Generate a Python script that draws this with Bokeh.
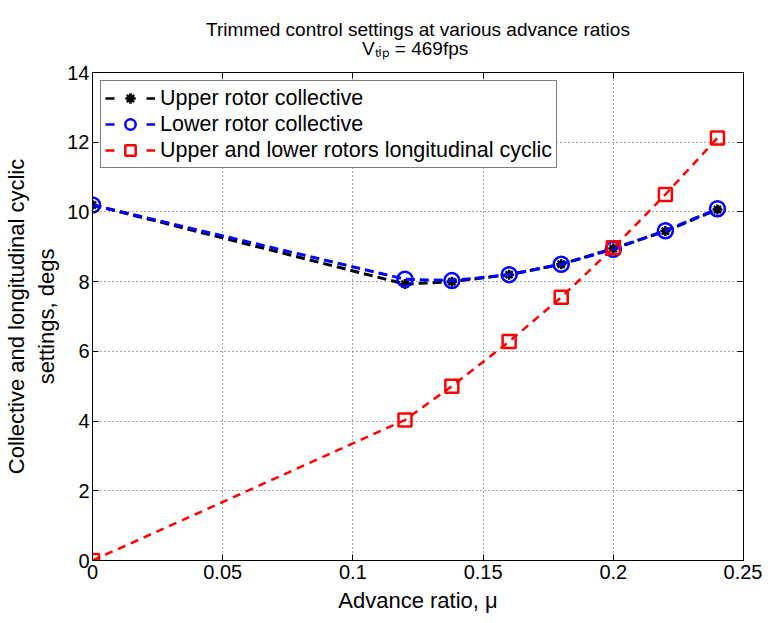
from bokeh.plotting import figure
from bokeh.models import (Range1d, FixedTicker, LinearAxis, Legend, LegendItem,
                          Title, ColumnDataSource)
from bokeh.embed import file_html
from bokeh.resources import INLINE

# ---- data ----
mu = [0.0, 0.12, 0.138, 0.16, 0.18, 0.20, 0.22, 0.24]
upper_collective = [10.2, 7.93, 8.00, 8.20, 8.50, 8.95, 9.45, 10.07]
lower_collective = [10.2, 8.07, 8.03, 8.20, 8.50, 8.93, 9.46, 10.09]
long_cyclic = [0.0, 4.03, 5.00, 6.28, 7.55, 8.97, 10.50, 12.12]

x_ticks = [0, 0.05, 0.1, 0.15, 0.2, 0.25]
x_tick_labels = ["0", "0.05", "0.1", "0.15", "0.2", "0.25"]
y_ticks = [0, 2, 4, 6, 8, 10, 12, 14]

series_labels = ["Upper rotor collective", "Lower rotor collective",
                 "Upper and lower rotors longitudinal cyclic"]
title_line1 = "Trimmed control settings at various advance ratios"
title_line2 = "V\u209c\u1d62\u209a = 469fps"
x_label = "Advance ratio, \u03bc"
y_label = "Collective and longitudinal cyclic\nsettings, degs"

FONT = "Liberation Sans"
TICK_FS = "20px"
XLABEL_FS = "22px"
YLABEL_FS = "22px"
LEGEND_FS = "21.5px"
TITLE_FS = "19px"

# second title line centred under the first (non-collapsing em spaces as indent)
title_text = title_line1 + "\n" + "\u2003" * 8 + "\u2009" + title_line2

p = figure(width=762, height=615, x_range=Range1d(0, 0.25), y_range=Range1d(0, 14),
           output_backend="svg", toolbar_location=None,
           min_border_left=92, min_border_right=19, min_border_top=72, min_border_bottom=52)
p.title.text = ""
p.background_fill_color = "white"
p.border_fill_color = "white"
p.outline_line_color = "black"
p.outline_line_width = 1

# axes
for ax in [p.xaxis[0], p.yaxis[0]]:
    ax.major_tick_in = 6
    ax.major_tick_out = 0
    ax.minor_tick_in = 0
    ax.minor_tick_out = 0
    ax.axis_line_color = "black"
    ax.major_tick_line_color = "black"
    ax.major_label_text_font = FONT
    ax.major_label_text_font_size = TICK_FS
    ax.major_label_text_color = "black"
    ax.axis_label_text_font = FONT
    ax.axis_label_text_font_style = "normal"
    ax.axis_label_text_color = "black"
p.xaxis.axis_label_text_font_size = XLABEL_FS
p.yaxis.axis_label_text_font_size = YLABEL_FS

p.xaxis.ticker = FixedTicker(ticks=x_ticks)
p.xaxis.major_label_overrides = {t: l for t, l in zip(x_ticks, x_tick_labels)}
p.yaxis.ticker = FixedTicker(ticks=y_ticks)
p.xaxis.axis_label = x_label
p.yaxis.axis_label = y_label
p.xaxis.major_label_standoff = 4
p.xaxis.axis_label_standoff = 6
p.yaxis.major_label_standoff = 3
p.yaxis.axis_label_standoff = 5

# box axes (top/right) with inward ticks, no labels
top_ax = LinearAxis(ticker=FixedTicker(ticks=x_ticks),
                    major_label_overrides={t: "" for t in x_ticks})
right_ax = LinearAxis(ticker=FixedTicker(ticks=y_ticks),
                      major_label_overrides={t: "" for t in y_ticks})
for ax in [top_ax, right_ax]:
    ax.major_tick_in = 6
    ax.major_tick_out = 0
    ax.minor_tick_in = 0
    ax.minor_tick_out = 0
    ax.major_label_standoff = 0
    ax.axis_line_color = "black"
    ax.major_tick_line_color = "black"
    ax.major_label_text_font_size = "1px"
p.add_layout(top_ax, "above")
p.add_layout(right_ax, "right")

# two-line title
p.add_layout(Title(text=title_text, align="center", text_font=FONT,
                   text_font_size=TITLE_FS, text_font_style="normal",
                   text_line_height=0.92, text_color="black", standoff=27), "above")

# grid
for g in [p.xgrid[0], p.ygrid[0]]:
    g.grid_line_color = "#444444"
    g.grid_line_dash = "1 3"
    g.grid_line_width = 1
    g.grid_line_alpha = 0.9
p.xgrid.ticker = FixedTicker(ticks=x_ticks)
p.ygrid.ticker = FixedTicker(ticks=y_ticks)

src = ColumnDataSource(dict(x=mu, up=upper_collective, lo=lower_collective, cy=long_cyclic))

# series
p.line("x", "up", source=src, line_color="black", line_width=3, line_dash="9 5")
r_up = p.scatter("x", "up", source=src, marker="asterisk", size=10, line_color="black",
                 line_width=2.5)
p.line("x", "lo", source=src, line_color="#0000ff", line_width=3, line_dash="9 5")
r_lo = p.scatter("x", "lo", source=src, marker="circle", size=15, line_color="#0000ff",
                 fill_color=None, line_width=2.5)
p.line("x", "cy", source=src, line_color="#ff0000", line_width=2.5, line_dash="8 6")
r_cy = p.scatter("x", "cy", source=src, marker="square", size=13, line_color="#ff0000",
                 fill_color=None, line_width=2.5)

# legend-only line stubs (not drawn in the plot: NaN data)
nan = float("nan")
stub = ColumnDataSource(dict(x=[nan, nan], y=[nan, nan]))
l_up = p.line("x", "y", source=stub, line_color="black", line_width=2.5, line_dash="9 32")
l_lo = p.line("x", "y", source=stub, line_color="#0000ff", line_width=2.5, line_dash="9 32")
l_cy = p.line("x", "y", source=stub, line_color="#ff0000", line_width=2.5, line_dash="9 32")

legend = Legend(items=[
    LegendItem(label=series_labels[0], renderers=[l_up, r_up]),
    LegendItem(label=series_labels[1], renderers=[l_lo, r_lo]),
    LegendItem(label=series_labels[2], renderers=[l_cy, r_cy]),
], location="top_left")
legend.margin = 8
legend.padding = 4
legend.spacing = 0
legend.glyph_width = 50
legend.glyph_height = 26
legend.label_height = 26
legend.label_standoff = 5
legend.label_text_font = FONT
legend.label_text_font_size = LEGEND_FS
legend.label_text_color = "black"
legend.border_line_color = "black"
legend.border_line_width = 1
legend.background_fill_color = "white"
legend.background_fill_alpha = 1
p.add_layout(legend, "center")

open("out.html", "w").write(file_html(p, INLINE))
